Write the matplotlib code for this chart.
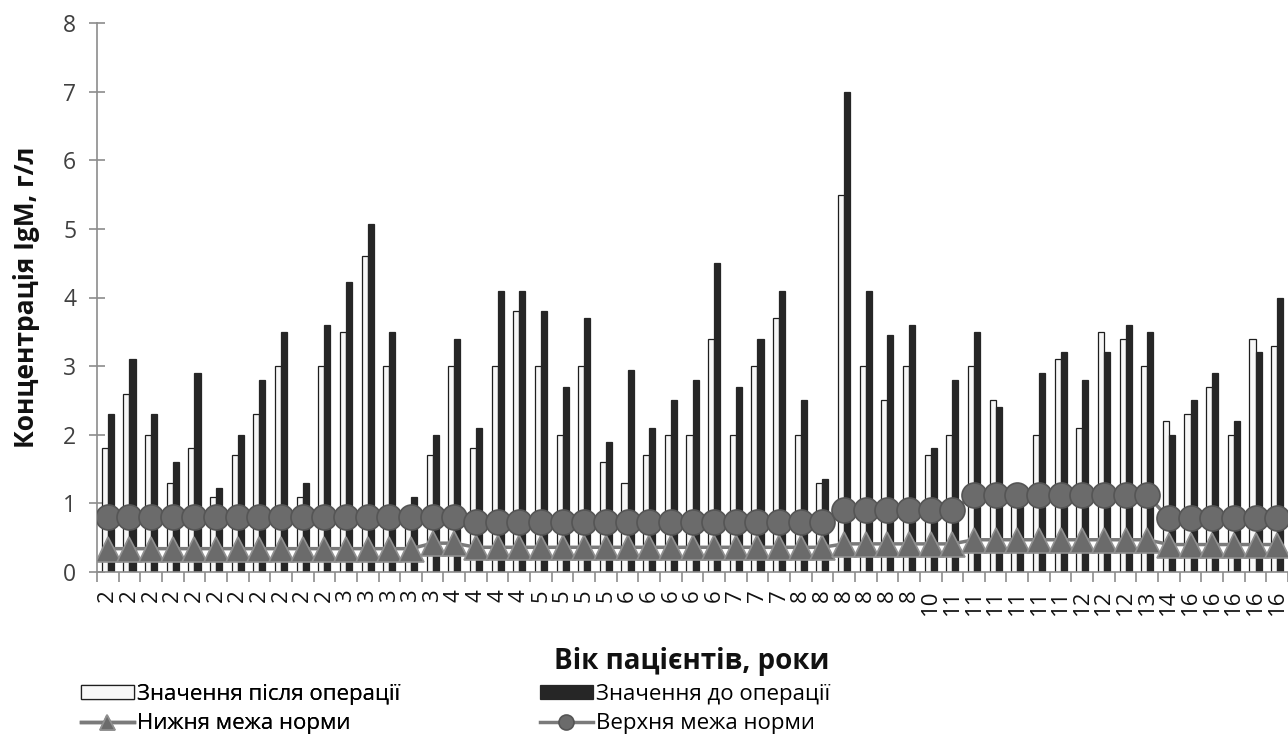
import matplotlib
matplotlib.use("Agg")
import matplotlib.pyplot as plt
import numpy as np

plt.rcParams["font.family"] = ["Open Sans", "DejaVu Sans"]

# patient ages (x categories)
AGES = ["2", "2", "2", "2", "2", "2", "2", "2", "2", "2", "2",
        "3", "3", "3", "3", "3",
        "4", "4", "4", "4",
        "5", "5", "5", "5",
        "6", "6", "6", "6", "6",
        "7", "7", "7",
        "8", "8", "8", "8", "8", "8",
        "10",
        "11", "11", "11", "11", "11", "11",
        "12", "12", "12",
        "13", "14",
        "16", "16", "16", "16", "16"]

# IgM, g/l
AFTER_OP = [1.8, 2.6, 2.0, 1.3, 1.8, 1.1, 1.7, 2.3, 3.0, 1.1, 3.0,
            3.5, 4.6, 3.0, 0.9, 1.7,
            3.0, 1.8, 3.0, 3.8,
            3.0, 2.0, 3.0, 1.6,
            1.3, 1.7, 2.0, 2.0, 3.4,
            2.0, 3.0, 3.7,
            2.0, 1.3, 5.5, 3.0, 2.5, 3.0,
            1.7,
            2.0, 3.0, 2.5, 1.0, 2.0, 3.1,
            2.1, 3.5, 3.4,
            3.0, 2.2,
            2.3, 2.7, 2.0, 3.4, 3.3]
BEFORE_OP = [2.3, 3.1, 2.3, 1.6, 2.9, 1.22, 2.0, 2.8, 3.5, 1.3, 3.6,
             4.23, 5.07, 3.5, 1.1, 2.0,
             3.4, 2.1, 4.1, 4.1,
             3.8, 2.7, 3.7, 1.9,
             2.95, 2.1, 2.5, 2.8, 4.5,
             2.7, 3.4, 4.1,
             2.5, 1.35, 7.0, 4.1, 3.45, 3.6,
             1.8,
             2.8, 3.5, 2.4, 1.1, 2.9, 3.2,
             2.8, 3.2, 3.6,
             3.5, 2.0,
             2.5, 2.9, 2.2, 3.2, 4.0]
LOWER_NORM = [0.34, 0.34, 0.34, 0.34, 0.34, 0.34, 0.34, 0.34, 0.34, 0.34, 0.34,
              0.34, 0.34, 0.34, 0.34, 0.42,
              0.42, 0.36, 0.36, 0.36,
              0.36, 0.36, 0.36, 0.36,
              0.36, 0.36, 0.36, 0.36, 0.36,
              0.36, 0.36, 0.36,
              0.36, 0.36, 0.41, 0.41, 0.41, 0.41,
              0.41,
              0.41, 0.47, 0.47, 0.47, 0.47, 0.47,
              0.47, 0.47, 0.47,
              0.47, 0.40,
              0.40, 0.40, 0.40, 0.40, 0.40]
UPPER_NORM = [0.8, 0.8, 0.8, 0.8, 0.8, 0.8, 0.8, 0.8, 0.8, 0.8, 0.8,
              0.8, 0.8, 0.8, 0.8, 0.8,
              0.8, 0.73, 0.73, 0.73,
              0.73, 0.73, 0.73, 0.73,
              0.73, 0.73, 0.73, 0.73, 0.73,
              0.73, 0.73, 0.73,
              0.73, 0.73, 0.9, 0.9, 0.9, 0.9,
              0.9,
              0.9, 1.12, 1.12, 1.12, 1.12, 1.12,
              1.12, 1.12, 1.12,
              1.12, 0.78,
              0.78, 0.78, 0.78, 0.78, 0.78]

W, H = 1288, 738
GRAY = "#8c8c8c"

fig = plt.figure(figsize=(W / 100, H / 100), dpi=100)
ax = fig.add_axes([97 / W, (H - 572) / H, (W - 97) / W, (572 - 23) / H])

x = np.arange(len(AGES))
bar_w = 0.28

b1 = ax.bar(x - bar_w / 2, AFTER_OP, bar_w, color="#f7f7f7",
            edgecolor="#1e1e1e", linewidth=0.9, zorder=2)
b2 = ax.bar(x + bar_w / 2, BEFORE_OP, bar_w, color="#262626",
            edgecolor="#262626", linewidth=0.9, zorder=2)
l1, = ax.plot(x, LOWER_NORM, color="#7a7a7a", lw=2.5, marker="^", ms=18,
              mfc="#6b6b6b", mec="#909090", mew=1.2, zorder=3)
l2, = ax.plot(x, UPPER_NORM, color="#7a7a7a", lw=2.5, marker="o", ms=18,
              mfc="#6b6b6b", mec="#555555", mew=1.2, zorder=4)

ax.set_xlim(-0.5, len(AGES) - 0.5)
ax.set_ylim(0, 8)
ax.set_yticks(range(9))
ax.set_xticks(x)
ax.set_xticklabels(AGES, rotation=90, va="top", ha="center")
# tick marks between categories
ax.set_xticks(np.arange(len(AGES) + 1) - 0.5, minor=True)

for side in ["top", "right"]:
    ax.spines[side].set_visible(False)
for side in ["left", "bottom"]:
    ax.spines[side].set_color(GRAY)
    ax.spines[side].set_linewidth(1.2)

ax.tick_params(axis="x", which="major", length=0, pad=12.5,
               labelsize=16, labelcolor="#111111")
ax.tick_params(axis="x", which="minor", length=7, width=1.2,
               color=GRAY, direction="out")
ax.tick_params(axis="y", length=12, width=1.2, color=GRAY,
               direction="inout", pad=9, labelsize=16.5, labelcolor="#404040")

fig.text(27 / W, (H - 297) / H, "Концентрація IgM, г/л", rotation=90,
         ha="center", va="center", fontsize=19, fontweight="bold",
         color="#111111")
fig.text(692 / W, (H - 662) / H, "Вік пацієнтів, роки", ha="center",
         va="center", fontsize=20, fontweight="bold", color="#111111")

leg_kw = dict(frameon=False, fontsize=16, handlelength=2.38,
              handleheight=0.55, handletextpad=0.15, labelspacing=0.36,
              borderpad=0, borderaxespad=0, markerscale=0.6,
              loc="center left")
leg1 = fig.legend([b1, l1], ["Значення після операції", "Нижня межа норми"],
                  bbox_to_anchor=(81 / W, (H - 709) / H), **leg_kw)
leg2 = fig.legend([b2, l2], ["Значення до операції", "Верхня межа норми"],
                  bbox_to_anchor=(540 / W, (H - 709) / H), **leg_kw)
fig.add_artist(leg1)

fig.savefig("out.png", dpi=100)
